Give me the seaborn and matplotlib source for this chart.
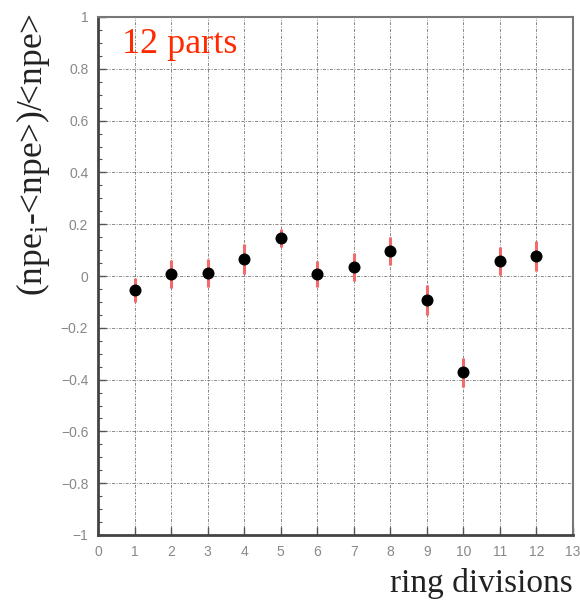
import matplotlib
matplotlib.use("Agg")
import matplotlib.pyplot as plt
import seaborn as sns
import numpy as np
import pandas as pd
from matplotlib.ticker import MultipleLocator

divisions = [1, 2, 3, 4, 5, 6, 7, 8, 9, 10, 11, 12]
rel_dev = [-0.054, 0.008, 0.012, 0.066, 0.147, 0.008, 0.035, 0.097, -0.093, -0.372, 0.058, 0.077]
rel_err = [0.045, 0.054, 0.055, 0.058, 0.035, 0.05, 0.055, 0.054, 0.058, 0.055, 0.054, 0.058]

df = pd.DataFrame({"div": divisions, "dev": rel_dev, "err": rel_err})

sns.set_style("white")
plt.rcParams["mathtext.fontset"] = "custom"
plt.rcParams["mathtext.rm"] = "Liberation Serif"
fig = plt.figure(figsize=(5.8, 6.01), dpi=100)
ax = fig.add_axes([98/580, 1-535/601, (573-98)/580, (535-17)/601])

ax.errorbar(df["div"], df["dev"], yerr=df["err"], fmt="none", ecolor="#f26a6a",
            elinewidth=2.2, capsize=0, zorder=3)
sns.scatterplot(data=df, x="div", y="dev", color="black", s=75, edgecolor="black",
                linewidth=0, ax=ax, zorder=4)

ax.set_xlim(0, 13)
ax.set_ylim(-1, 1)
ax.yaxis.set_minor_locator(MultipleLocator(0.05))
ax.grid(True, which="major", color="#666666", linestyle=(0, (3, 1.5, 1, 1.5)), linewidth=0.7, alpha=0.8)
ax.set_xlabel("")
ax.set_ylabel("")

ylabels = ["\u22121", "\u22120.8", "\u22120.6", "\u22120.4", "\u22120.2", "0", "0.2", "0.4", "0.6", "0.8", "1"]
ax.set_yticks(np.linspace(-1, 1, 11))
ax.set_yticklabels(ylabels)
ax.set_xticks(range(0, 14))
ax.set_xticklabels([str(i) for i in range(0, 14)])
ax.tick_params(axis="both", which="major", labelsize=10, labelcolor="#888888",
               direction="in", length=6, width=1, color="#555555", left=True, bottom=True, pad=7)
ax.tick_params(axis="y", which="minor", direction="in", length=3, width=0.8, color="#555555", left=True)
for lab in ax.get_xticklabels() + ax.get_yticklabels():
    lab.set_family("Liberation Sans")

for side in ["left", "bottom"]:
    ax.spines[side].set_color("#444444")
    ax.spines[side].set_linewidth(2)
for side in ["top", "right"]:
    ax.spines[side].set_color("#777777")
    ax.spines[side].set_linewidth(1.5)

ax.text(0.66, 0.895, "12 parts", color="#ff2a00", fontsize=26, family="Liberation Serif",
        va="center", ha="left")

fig.text(33/580, 1-154/601, r"(npe$_{\rm i}$-<npe>)/<npe>", rotation=90, fontsize=25.5,
         family="Liberation Serif", color="#222222", ha="center", va="center")
fig.text(573/580, 1-592/601, "ring divisions", fontsize=24, family="Liberation Serif",
         color="#222222", ha="right", va="baseline")

fig.savefig("out.png", dpi=100)
